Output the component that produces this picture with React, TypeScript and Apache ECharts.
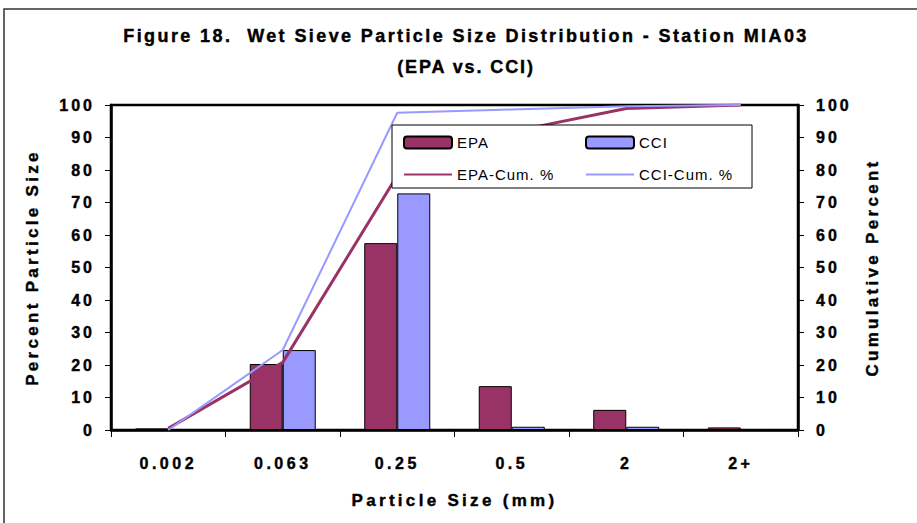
import React, { useEffect, useRef } from "react";
import * as echarts from "echarts";

const categories = ["0.002", "0.063", "0.25", "0.5", "2", "2+"];
const epaValues = [0.5, 20.3, 57.5, 13.5, 6.2, 0.8];
const cciValues = [0, 24.6, 72.8, 1.0, 1.0, 0];
const epaCumulative = [0.5, 20.8, 78.3, 91.8, 98.9, 100];
const cciCumulative = [0, 24.6, 97.6, 98.6, 99.6, 100];
const yTicks = [0, 100, 10]; // min, max, interval

const TITLE_1 = "Figure 18.  Wet Sieve Particle Size Distribution - Station MIA03";
const TITLE_2 = "(EPA vs. CCI)";
const X_NAME = "Particle Size (mm)";
const Y_LEFT_NAME = "Percent Particle Size";
const Y_RIGHT_NAME = "Cumulative Percent";
const LEGEND_NAMES = ["EPA", "CCI", "EPA-Cum. %", "CCI-Cum. %"];

const EPA_COLOR = "#993366";
const CCI_COLOR = "#9999FF";
const FONT = "Liberation Sans, Arial, sans-serif";

function spacingFor(t: string): number | null {
  if (t === TITLE_1) return 2.4;
  if (t === TITLE_2) return 1.9;
  if (t === X_NAME || t === Y_LEFT_NAME || t === Y_RIGHT_NAME) return 3.3;
  if (LEGEND_NAMES.includes(t)) return 1.0;
  if (categories.includes(t)) return 3.5;
  if (/^\d+$/.test(t)) return 3.0;
  return null;
}

export default function App() {
  const ref = useRef<HTMLDivElement>(null);
  useEffect(() => {
    if (!ref.current) return;
    const el = ref.current;
    const chart = echarts.init(el, undefined, { renderer: "svg" });
    const heavy = { textBorderColor: "#000", textBorderWidth: 0.4 };
    const axisLabel = { color: "#000", fontWeight: "bold", fontSize: 16, fontFamily: FONT, ...heavy };
    const nameStyle = { color: "#000", fontWeight: "bold", fontSize: 17, fontFamily: FONT, ...heavy };
    const titleStyle = { fontSize: 18, fontWeight: "bold", fontFamily: FONT, color: "#000", ...heavy };
    const yAxisCommon = {
      type: "value",
      min: yTicks[0],
      max: yTicks[1],
      interval: yTicks[2],
      axisLine: { show: true, lineStyle: { color: "#000", width: 2.5 } },
      axisTick: { show: true, length: 6, lineStyle: { color: "#000", width: 1 } },
      splitLine: { show: false },
      nameLocation: "middle",
      nameRotate: 90,
      nameTextStyle: nameStyle,
    };
    const legendText = { fontSize: 15, fontFamily: FONT, color: "#000" };
    const hiddenSymbol = { opacity: 0 };
    chart.setOption({
      animation: false,
      backgroundColor: "#fff",
      title: [
        { text: TITLE_1, left: 461, textAlign: "center", top: 22, textStyle: titleStyle },
        { text: TITLE_2, left: 461, textAlign: "center", top: 53, textStyle: titleStyle },
      ],
      grid: {
        left: 111,
        right: 119,
        top: 105,
        bottom: 93,
        show: true,
        borderColor: "#000",
        borderWidth: 2.5,
        backgroundColor: "transparent",
      },
      legend: [
        {
          data: [{ name: "EPA" }, { name: "EPA-Cum. %", itemStyle: hiddenSymbol }],
          orient: "vertical",
          left: 403,
          top: 135,
          padding: 0,
          itemWidth: 48,
          itemHeight: 12,
          itemGap: 17,
          z: 10,
          textStyle: legendText,
        },
        {
          data: [{ name: "CCI" }, { name: "CCI-Cum. %", itemStyle: hiddenSymbol }],
          orient: "vertical",
          left: 585,
          top: 135,
          padding: 0,
          itemWidth: 48,
          itemHeight: 12,
          itemGap: 17,
          z: 10,
          textStyle: legendText,
        },
      ],
      graphic: [
        {
          type: "rect",
          z: 5,
          shape: { x: 392, y: 125, width: 360, height: 63 },
          style: { fill: "#fff", stroke: "#000", lineWidth: 1 },
        },
        {
          type: "rect",
          z: 0,
          silent: true,
          shape: { x: 4, y: 9, width: 1000, height: 1000 },
          style: { fill: "none", stroke: "#333", lineWidth: 1.5 },
        },
      ],
      xAxis: {
        type: "category",
        data: categories,
        boundaryGap: true,
        axisLine: { lineStyle: { color: "#000", width: 2.5 } },
        axisTick: { show: true, length: 7, alignWithLabel: false, lineStyle: { color: "#000", width: 1 } },
        axisLabel: { ...axisLabel, margin: 25 },
        name: X_NAME,
        nameLocation: "middle",
        nameGap: 62,
        nameTextStyle: nameStyle,
      },
      yAxis: [
        {
          ...yAxisCommon,
          position: "left",
          name: Y_LEFT_NAME,
          nameGap: 70,
          axisLabel: { ...axisLabel, margin: 16 },
        },
        {
          ...yAxisCommon,
          position: "right",
          name: Y_RIGHT_NAME,
          nameGap: 66,
          axisLabel: { ...axisLabel, margin: 18 },
        },
      ],
      series: [
        {
          name: "EPA",
          type: "bar",
          yAxisIndex: 0,
          data: epaValues,
          barWidth: 33,
          barGap: "0%",
          itemStyle: { color: EPA_COLOR, borderColor: "#000", borderWidth: 1 },
        },
        {
          name: "CCI",
          type: "bar",
          yAxisIndex: 0,
          data: cciValues,
          barWidth: 33,
          barGap: "0%",
          itemStyle: { color: CCI_COLOR, borderColor: "#000", borderWidth: 1 },
        },
        {
          name: "EPA-Cum. %",
          type: "line",
          yAxisIndex: 1,
          data: epaCumulative,
          symbol: "none",
          lineStyle: { color: EPA_COLOR, width: 3 },
          itemStyle: { color: EPA_COLOR },
        },
        {
          name: "CCI-Cum. %",
          type: "line",
          yAxisIndex: 1,
          data: cciCumulative,
          symbol: "none",
          lineStyle: { color: CCI_COLOR, width: 2 },
          itemStyle: { color: CCI_COLOR },
        },
      ],
    });
    const applySpacing = () => {
      el.querySelectorAll("text").forEach((node) => {
        const s = spacingFor((node.textContent || "").trim());
        if (s !== null) node.setAttribute("letter-spacing", String(s));
      });
    };
    try {
      (chart.getZr() as any).flush?.();
    } catch (e) {}
    applySpacing();
    chart.on("finished", applySpacing);
    const raf = requestAnimationFrame(applySpacing);
    const to = setTimeout(applySpacing, 50);
    return () => {
      cancelAnimationFrame(raf);
      clearTimeout(to);
      chart.dispose();
    };
  }, []);
  return (
    <div
      ref={ref}
      style={{ position: "absolute", left: 0, top: 0, width: 917, height: 523 }}
    />
  );
}
